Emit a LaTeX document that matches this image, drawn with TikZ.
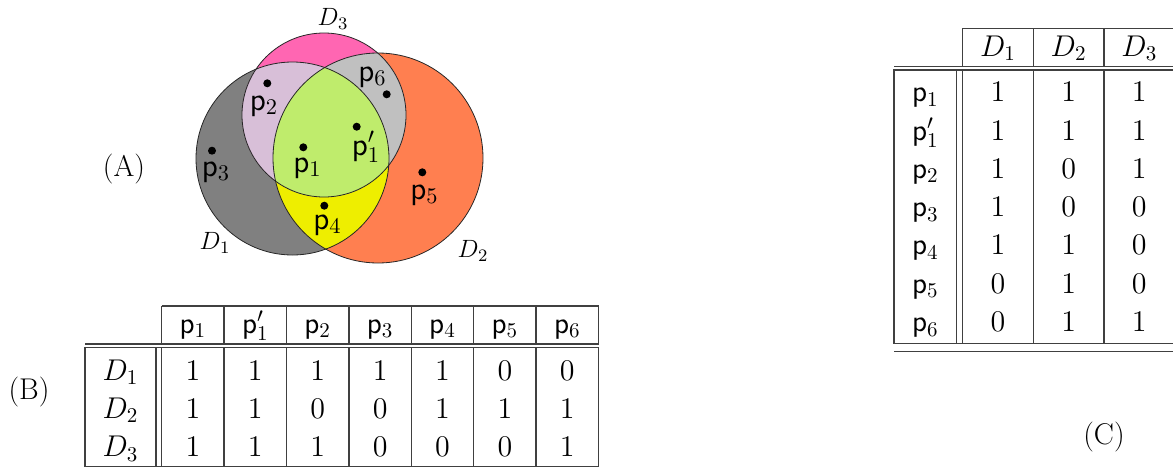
\RequirePackage{fix-cm}
\documentclass[tikz,border=0pt]{standalone}
\definecolor{cOne}{RGB}{128,128,128}
\definecolor{cTwo}{RGB}{255,127,80}
\definecolor{cThree}{RGB}{255,102,178}
\definecolor{cOneThree}{RGB}{216,191,216}
\definecolor{cTwoThree}{RGB}{192,192,192}
\definecolor{cOneTwo}{RGB}{238,238,0}
\definecolor{cAll}{RGB}{191,236,108}
\begin{document}
\begin{tikzpicture}[x=0.5pt,y=-0.5pt,
  tl/.style={line width=0.7pt, draw=black!75},
  cell/.style={inner sep=0pt, anchor=base, font=\fontsize{15}{18}\selectfont},
  lab/.style={inner sep=0pt, font=\fontsize{15}{18}\selectfont},
  vp/.style={inner sep=0pt, font=\fontsize{16}{19}\selectfont},
  vd/.style={inner sep=0pt, font=\fontsize{12.5}{15}\selectfont},
  ptdot/.style={circle, fill=black, inner sep=0pt, minimum size=4pt},
  circ/.style={draw=black!85, line width=0.4pt}]
\useasboundingbox (0,0) rectangle (1173,472);

% ---------- Venn diagram (A) ----------
\coordinate (c1) at (292.5,158.5);
\coordinate (c2) at (378,158);
\coordinate (c3) at (324,115);
\fill[cOne] (c1) circle[radius=48.25pt];
\fill[cTwo] (c2) circle[radius=52.5pt];
\fill[cThree] (c3) circle[radius=41pt];
\begin{scope}
  \clip (c2) circle[radius=52.5pt];
  \fill[cTwoThree] (c3) circle[radius=41pt];
\end{scope}
\begin{scope}
  \clip (c1) circle[radius=48.25pt];
  \fill[cOneTwo] (c2) circle[radius=52.5pt];
  \fill[cOneThree] (c3) circle[radius=41pt];
  \clip (c2) circle[radius=52.5pt];
  \fill[cAll] (c3) circle[radius=41pt];
\end{scope}
\draw[circ] (c1) circle[radius=48.25pt];
\draw[circ] (c2) circle[radius=52.5pt];
\draw[circ] (c3) circle[radius=41pt];

\node[ptdot] (dp2) at (267.3,83.3) {};
\node[ptdot] (dp6) at (386.7,94.3) {};
\node[ptdot] (dp3) at (212,150.7) {};
\node[ptdot] (dp1) at (303.3,147.3) {};
\node[ptdot] (dpp) at (356.7,126.7) {};
\node[ptdot] (dp5) at (422.3,172.3) {};
\node[ptdot] (dp4) at (324.3,205.7) {};
\node[vp] (lp2) at (264,106) {$\mathsf{p}_2$};
\node[vp] (lp6) at (372.5,77) {$\mathsf{p}_6$};
\node[vp] (lp3) at (216,172) {$\mathsf{p}_3$};
\node[vp] (lp1) at (307.5,168) {$\mathsf{p}_1$};
\node[vp] (lpp) at (366,147) {$\mathsf{p}'_1$};
\node[vp] (lp5) at (424.5,195) {$\mathsf{p}_5$};
\node[vp] (lp4) at (327.5,225) {$\mathsf{p}_4$};
\node[vd] (lD3) at (333,19) {$D_3$};
\node[vd] (lD1) at (215,243) {$D_1$};
\node[vd] (lD2) at (473,251) {$D_2$};

\node[lab] (labA) at (124,169) {(A)};
\node[lab] (labB) at (29,392.5) {(B)};
\node[lab] (labC) at (1104,437.5) {(C)};

% ---------- Table (B) ----------
\draw[tl] (161.7,306) -- (598.5,306);
\foreach \k in {0,...,7} \draw[tl] ({161.7+62.4*\k},306) -- ({161.7+62.4*\k},344);
\draw[tl] (85,344) -- (598.5,344);
\draw[tl] (85,347.3) rectangle (598.5,466.7);
\draw[tl] (156,347.3) -- (156,466.7);
\foreach \k in {0,...,6} \draw[tl] ({161.7+62.4*\k},347.3) -- ({161.7+62.4*\k},466.7);
\foreach \t [count=\i] in {{$\mathsf{p}_1$},{$\mathsf{p}'_1$},{$\mathsf{p}_2$},{$\mathsf{p}_3$},{$\mathsf{p}_4$},{$\mathsf{p}_5$},{$\mathsf{p}_6$}}
  \node[cell] (bh\i) at ({161.7+62.4*(\i-0.5)},333.3) {\t};
\foreach \r in {1,2,3}
  \node[cell] (bd\r) at (120.5,{380+38.3*(\r-1)}) {$D_\r$};
\foreach \row [count=\r] in {{1,1,1,1,1,0,0},{1,1,0,0,1,1,1},{1,1,1,0,0,0,1}}
  \foreach \v [count=\c] in \row
    \node[cell] (b\r-\c) at ({161.7+62.4*(\c-0.5)},{380+38.3*(\r-1)}) {$\v$};

% ---------- Table (C) ----------
\draw[tl] (962.7,28.3) -- (1173,28.3);
\foreach \k in {0,1,2} \draw[tl] ({962.7+70.65*\k},28.3) -- ({962.7+70.65*\k},66.7);
\draw[tl] (894,66.7) -- (1173,66.7);
\draw[tl] (1173,70) -- (894,70) -- (894,343.3) -- (1173,343.3);
\draw[tl] (956.7,70) -- (956.7,343.3);
\foreach \k in {0,1,2} \draw[tl] ({962.7+70.65*\k},70) -- ({962.7+70.65*\k},343.3);
\draw[tl] (894,351.7) -- (1173,351.7);
\foreach \i in {1,2,3}
  \node[cell] (ch\i) at ({962.7+70.65*(\i-0.5)},56) {$D_\i$};
\foreach \t [count=\r] in {{$\mathsf{p}_1$},{$\mathsf{p}'_1$},{$\mathsf{p}_2$},{$\mathsf{p}_3$},{$\mathsf{p}_4$},{$\mathsf{p}_5$},{$\mathsf{p}_6$}}
  \node[cell] (cp\r) at (925.3,{101.7+38.3*(\r-1)}) {\t};
\foreach \row [count=\r] in {{1,1,1},{1,1,1},{1,0,1},{1,0,0},{1,1,0},{0,1,0},{0,1,1}}
  \foreach \v [count=\c] in \row
    \node[cell] (c\r-\c) at ({962.7+70.65*(\c-0.5)},{101.7+38.3*(\r-1)}) {$\v$};
\end{tikzpicture}
\end{document}
